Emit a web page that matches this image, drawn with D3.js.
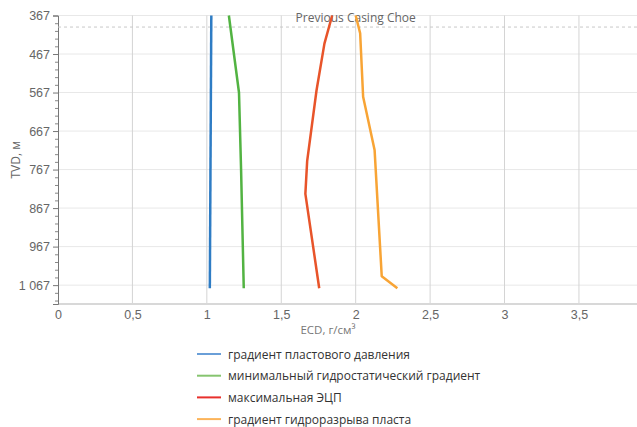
<!DOCTYPE html>
<html><head><meta charset="utf-8">
<script src="https://cdn.jsdelivr.net/npm/d3@7"></script>
<style>body{margin:0;background:#fff;} svg{display:block;font-family:"Open Sans","Noto Sans",sans-serif;}</style>
</head><body><svg id="c" width="637" height="427"></svg>
<script>
const seriesNames = ["градиент пластового давления","минимальный гидростатический градиент","максимальная ЭЦП","градиент гидроразрыва пласта"];
const lineColors = ["#2e7cc4","#52b342","#e8542a","#f8a435"];
const legendColors = ["#6a9fd8","#86c46f","#e8302c","#fcb45a"];
const depthPF = [367, 1075];
const ecdPF = [1.03, 1.02];
const depthMin = [367, 567, 767, 1075];
const ecdMin = [1.148, 1.216, 1.23, 1.248];
const depthMax = [367, 440, 561, 745, 830, 1075];
const ecdMax = [1.842, 1.79, 1.737, 1.674, 1.662, 1.755];
const depthFrac = [367, 413, 578, 716, 1044, 1075];
const ecdFrac = [2.0, 2.03, 2.05, 2.127, 2.175, 2.28];
const yTicks = [367, 467, 567, 667, 767, 867, 967, 1067];
const xTicks = [0, 0.5, 1, 1.5, 2, 2.5, 3, 3.5];
const shoeDepth = 397;
const shoeLabel = "Previous Casing Choe";

const svg = d3.select("#c");
const L = 58, T = 15.5, R = 637, B = 304;
const x = d3.scaleLinear().domain([0, 3.89]).range([L, R]);
const y = d3.scaleLinear().domain([367, 1116]).range([T, B]);
const fmtY = v => d3.format(",")(v).replace(",", " ");
const fmtX = v => String(v).replace(".", ",");

// grid
svg.append("g").selectAll("line").data(yTicks).join("line")
  .attr("x1", L).attr("x2", R).attr("y1", d => y(d)).attr("y2", d => y(d))
  .attr("stroke", "#e8e8e8").attr("stroke-width", 1);
svg.append("g").selectAll("line").data(xTicks.slice(1)).join("line")
  .attr("x1", d => x(d)).attr("x2", d => x(d)).attr("y1", T).attr("y2", B)
  .attr("stroke", "#d4d4d4").attr("stroke-width", 1);
// bottom axis line
svg.append("line").attr("x1", L).attr("x2", R).attr("y1", B).attr("y2", B)
  .attr("stroke", "#d8d8d8").attr("stroke-width", 2);

// y axis
const yAxis = svg.append("g").attr("transform", `translate(${L},0)`)
  .call(d3.axisLeft(y).tickValues(yTicks).tickFormat(fmtY).tickSize(5).tickPadding(3));
yAxis.select(".domain").attr("stroke", "#777");
yAxis.selectAll(".tick line").attr("stroke", "#777");
yAxis.selectAll("text").attr("fill", "#666").style("font-size", "12.5px");
const minor = d3.range(387, 1116, 20).filter(v => !yTicks.includes(v));
svg.append("g").attr("transform", `translate(${L},0)`)
  .call(d3.axisLeft(y).tickValues(minor).tickFormat("").tickSize(3))
  .call(g => g.select(".domain").remove())
  .selectAll(".tick line").attr("stroke", "#888");

// x axis labels
const xAxis = svg.append("g").attr("transform", `translate(0,${B})`)
  .call(d3.axisBottom(x).tickValues(xTicks).tickFormat(fmtX).tickSize(0).tickPadding(6));
xAxis.select(".domain").remove();
xAxis.selectAll("text").attr("fill", "#666").style("font-size", "12.5px");

// axis titles
svg.append("text").attr("transform", `translate(20,${(T+B)/2}) rotate(-90)`)
  .attr("text-anchor", "middle").attr("fill", "#666").style("font-size", "12px").text("TVD, м");
svg.append("text").attr("x", 328).attr("y", 334).attr("text-anchor", "middle")
  .attr("fill", "#777").style("font-size", "11.5px").text("ECD, г/см³");

// shoe line
svg.append("line").attr("x1", L).attr("x2", R).attr("y1", y(shoeDepth)).attr("y2", y(shoeDepth))
  .attr("stroke", "#c8c8c8").attr("stroke-dasharray", "3,3").attr("stroke-width", 1);
svg.append("text").attr("x", x(2.0)).attr("y", 21.5).attr("text-anchor", "middle")
  .attr("fill", "#666").style("font-size", "12px").text(shoeLabel);

// lines
const data = [[depthPF, ecdPF], [depthMin, ecdMin], [depthMax, ecdMax], [depthFrac, ecdFrac]];
const line = d3.line().x(d => x(d[1])).y(d => y(d[0]));
data.forEach((s, i) => {
  const pts = s[0].map((d, j) => [d, s[1][j]]);
  svg.append("path").attr("d", line(pts)).attr("fill", "none")
    .attr("stroke", lineColors[i]).attr("stroke-width", 2.5).attr("stroke-linejoin", "round");
});

// legend
const lg = svg.append("g");
seriesNames.forEach((n, i) => {
  const yy = 354 + i * 21.7;
  lg.append("line").attr("x1", 197).attr("x2", 221).attr("y1", yy).attr("y2", yy)
    .attr("stroke", legendColors[i]).attr("stroke-width", 2);
  lg.append("text").attr("x", 228).attr("y", yy + 4.5).attr("fill", "#333")
    .style("font-size", "12px").text(n);
});
</script></body></html>
